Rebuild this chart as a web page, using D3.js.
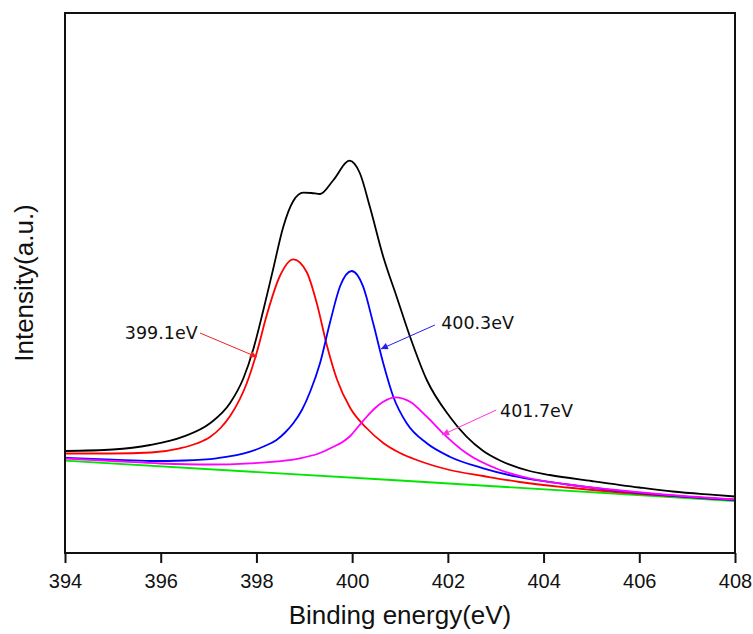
<!DOCTYPE html>
<html>
<head>
<meta charset="utf-8">
<script src="https://cdn.jsdelivr.net/npm/d3@7/dist/d3.min.js"></script>
<style>
  html, body { margin: 0; padding: 0; background: #fff; }
  svg { display: block; }
</style>
</head>
<body>
<svg id="chart" width="753" height="634"></svg>
<script>
// ---- Data (binding energy in eV, intensity in arbitrary units) ----
const xTicks = [394, 396, 398, 400, 402, 404, 406, 408];

const envelope = [
  [394, 102], [395, 103.5], [395.78, 108], [396.47, 116.3], [397.03, 129.7],
  [397.45, 150], [397.73, 175], [397.93, 203], [398.14, 242], [398.35, 284],
  [398.56, 326], [398.77, 352], [398.98, 360.3], [399.15, 360], [399.33, 359],
  [399.61, 373], [399.94, 392.3], [400.16, 380], [400.37, 346.3], [400.65, 296.3],
  [400.93, 256.3], [401.21, 216.3], [401.56, 173], [402.04, 136.3], [402.74, 102],
  [403.09, 92.5], [403.71, 82], [404.13, 78], [405, 72], [406, 65.5],
  [406.7, 61.5], [407.5, 58.3], [408, 56.5]
];

const peak3991 = [
  [394, 99.5], [395, 99.5], [395.8, 100.5], [396.4, 104.7], [396.75, 109.5],
  [397.03, 116], [397.25, 125], [397.45, 137], [397.8, 170], [398.01, 201],
  [398.21, 237], [398.49, 277], [398.77, 293.7], [399.05, 281], [399.26, 250],
  [399.47, 208], [399.68, 174], [399.96, 145], [400.3, 125], [400.65, 110],
  [401.0, 100], [401.35, 93], [402.04, 83], [402.74, 77], [403.5, 71],
  [404.5, 65.5], [405.5, 61], [406.5, 57.5], [407.5, 54.5], [408, 53.5]
];

const peak4003 = [
  [394, 95.3], [395, 93.3], [395.8, 92], [396.5, 92.5], [397.17, 94.7],
  [397.87, 101.3], [398.15, 106.5], [398.42, 113], [398.6, 120.5], [398.77, 129.7],
  [398.95, 143], [399.12, 161], [399.33, 190], [399.54, 231], [399.75, 267],
  [399.99, 282], [400.23, 266.3], [400.44, 229.7], [400.65, 189.7], [400.86, 156.3],
  [401.14, 129.7], [401.56, 109.7], [402.04, 96.3], [402.74, 84.7], [403.44, 76.3],
  [404.5, 68.5], [405.5, 62.5], [406.5, 58], [407.5, 54.5], [408, 53]
];

const peak4017 = [
  [394, 94.5], [395, 92], [396, 89.5], [397, 88.5], [397.87, 89.7],
  [398.91, 94.7], [399.3, 99.5], [399.61, 106.3], [399.8, 111], [399.96, 117],
  [400.13, 126.5], [400.3, 136], [400.48, 145], [400.65, 151.3], [400.9, 155.7],
  [401.21, 151.3], [401.56, 136.3], [401.9, 119.7], [402.39, 99.7], [403.09, 83],
  [403.71, 74.7], [404.5, 68.5], [405.5, 63], [406.5, 58.5], [407.5, 55],
  [408, 53.5]
];

const background = [[394, 92.3], [401, 72.5], [408, 52]];

const seriesNames  = ["envelope", "399.1eV", "400.3eV", "401.7eV", "background"];
const seriesData   = [envelope, peak3991, peak4003, peak4017, background];
const seriesColors = ["#000000", "#ff0000", "#0000ff", "#ff00ff", "#00e600"];

// annotations: label, text anchor (eV, a.u.), arrow start, arrow tip
const annLabels = ["399.1eV", "400.3eV", "401.7eV"];
const annText   = [[395.25, 214], [401.86, 224], [403.09, 136]];
const annFrom   = [[396.82, 220], [401.73, 228], [403.01, 143]];
const annTo     = [[398.01, 196], [400.60, 204], [401.88, 118]];
const annColors = ["#ee2222", "#2222ee", "#ff33dd"];

// ---- Layout ----
const svg = d3.select("#chart");
const L = 65, R = 735, T = 13, B = 553;

const x = d3.scaleLinear().domain([394, 408]).range([L, R]);
const y = d3.scaleLinear().domain([0, 540]).range([B, T]);

// curves
const line = d3.line()
  .x(d => x(d[0]))
  .y(d => y(d[1]))
  .curve(d3.curveMonotoneX);

const order = [4, 1, 2, 3, 0];
svg.append("g").selectAll("path")
  .data(order)
  .join("path")
  .attr("d", i => line(seriesData[i]))
  .attr("fill", "none")
  .attr("stroke", i => seriesColors[i])
  .attr("stroke-width", 1.8)
  .attr("stroke-linejoin", "round");

// arrow markers
const defs = svg.append("defs");
annColors.forEach((c, i) => {
  defs.append("marker")
    .attr("id", "arr" + i)
    .attr("viewBox", "0 0 10 10")
    .attr("refX", 10).attr("refY", 5)
    .attr("markerWidth", 9).attr("markerHeight", 7)
    .attr("markerUnits", "userSpaceOnUse")
    .attr("orient", "auto")
    .append("path")
    .attr("d", "M0,0 L10,5 L0,10 Z")
    .attr("fill", c);
});

const ann = svg.append("g");
annLabels.forEach((lab, i) => {
  ann.append("line")
    .attr("x1", x(annFrom[i][0])).attr("y1", y(annFrom[i][1]))
    .attr("x2", x(annTo[i][0])).attr("y2", y(annTo[i][1]))
    .attr("stroke", annColors[i])
    .attr("stroke-width", 1)
    .attr("marker-end", "url(#arr" + i + ")");
  ann.append("text")
    .attr("x", x(annText[i][0])).attr("y", y(annText[i][1]))
    .attr("font-family", "DejaVu Sans, sans-serif")
    .attr("font-size", 17.5)
    .attr("fill", "#111")
    .text(lab);
});

// frame
svg.append("rect")
  .attr("x", L).attr("y", T)
  .attr("width", R - L).attr("height", B - T)
  .attr("fill", "none")
  .attr("stroke", "#111")
  .attr("stroke-width", 2);

// x axis
const xAxis = d3.axisBottom(x).tickValues(xTicks).tickSize(10).tickPadding(11)
  .tickFormat(d3.format("d"));
const gx = svg.append("g").attr("transform", `translate(0,${B})`).call(xAxis);
gx.select(".domain").remove();
gx.selectAll(".tick line").attr("stroke", "#111").attr("stroke-width", 2);
gx.selectAll(".tick text")
  .attr("font-family", "Liberation Sans, Arial, sans-serif")
  .attr("font-size", 20)
  .attr("fill", "#111");

// axis titles
svg.append("text")
  .attr("x", (L + R) / 2).attr("y", 624)
  .attr("text-anchor", "middle")
  .attr("font-family", "Liberation Sans, Arial, sans-serif")
  .attr("font-size", 26)
  .attr("fill", "#111")
  .text("Binding energy(eV)");

svg.append("text")
  .attr("transform", `translate(33,${(T + B) / 2}) rotate(-90)`)
  .attr("text-anchor", "middle")
  .attr("font-family", "Liberation Sans, Arial, sans-serif")
  .attr("font-size", 26)
  .attr("fill", "#111")
  .text("Intensity(a.u.)");
</script>
</body>
</html>
